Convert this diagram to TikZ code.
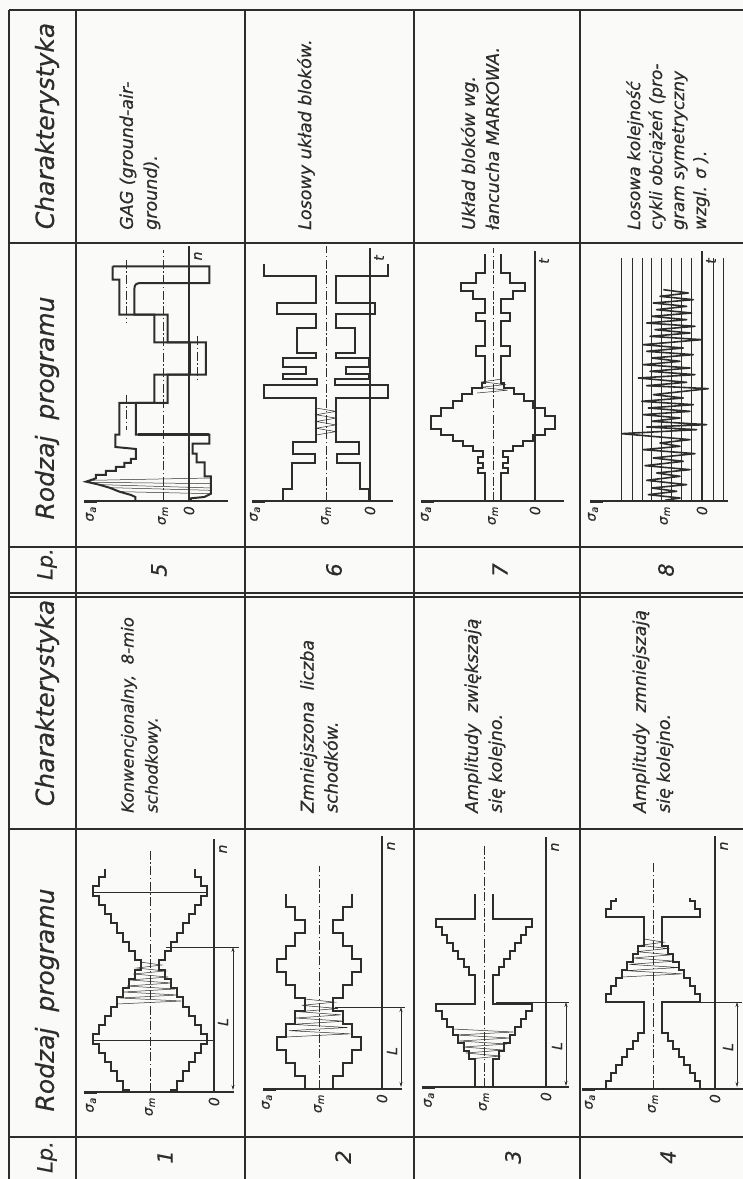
\documentclass[tikz,border=0pt]{standalone}
\usepackage{fontspec}
\setmainfont{DejaVu Sans}
\usetikzlibrary{arrows.meta}
\definecolor{ink}{RGB}{45,45,45}
\definecolor{paper}{RGB}{250,250,248}
\newcommand\scanit{\itshape\addfontfeatures{FakeBold=0.5}}
\newcommand\envside[2]{\draw[env] (#1,0) \foreach \v/\w in {#2} { |- (\w,\v) };}
\newcommand\envl[2]{\envside{#1}{#2}\begin{scope}[xscale=-1]\envside{#1}{#2}\end{scope}}
\newcommand\zz[5]{\draw[zzs] (-#3,#1) \foreach \i in {1,...,#5} { -- ({(2*mod(\i,2)-1)*(#3+(#4-#3)*\i/#5)},{#1+(#2-#1)*\i/#5}) };}
\newcommand\plotax[9]{%
  \draw[ax] (#2,#4) -- (#3,#4);
  \draw[ink,line width=3pt] (#2,#4) -- ++(13,0);
  \draw[ax] (#5,#4) -- (#5,#6);
  \draw[ink,line width=2.4pt] (#5,#6) -- ++(0,16);
  \node[lab] (#1sa) at (#8,#4+4) {σ\textsubscript{a}};
  \node[lab] (#1sm) at (#7,#4+4) {σ\textsubscript{m}};
  \node[lab] (#1z) at (#5,#4+4) {0};
  \node[lab,anchor=center] (#1n) at (#5+9,#6+10) {#9};
}
\begin{document}
\begin{tikzpicture}[x=1pt,y=-1pt,
  tline/.style={draw=ink,line width=1.4pt},
  env/.style={draw=ink,line width=2pt,line join=miter},
  ax/.style={draw=ink,line width=1.2pt},
  fine/.style={draw=ink,line width=0.6pt},
  zzs/.style={draw=ink,line width=0.5pt},
  mean/.style={draw=ink,line width=0.6pt,dash pattern=on 9pt off 2.5pt on 1.5pt off 2.5pt},
  dim/.style={draw=ink,line width=0.7pt,{Stealth[length=5pt,width=3pt]}-{Stealth[length=5pt,width=3pt]}},
  lab/.style={rotate=90,anchor=east,inner sep=1pt,text=ink,font=\fontsize{14}{16}\selectfont\scanit},
  hdr/.style={rotate=90,inner sep=0pt,text=ink,font=\fontsize{25}{29}\selectfont\scanit},
  lphdr/.style={rotate=90,inner sep=0pt,text=ink,font=\fontsize{21}{24}\selectfont\scanit},
  ctext/.style={rotate=90,inner sep=0pt,anchor=west,align=left,text=ink,font=\fontsize{17.5}{24}\selectfont\scanit},
  num/.style={rotate=90,inner sep=0pt,text=ink,font=\fontsize{21}{24}\selectfont\scanit}]
\useasboundingbox (0,0) rectangle (743,1179);
\fill[paper] (0,0) rectangle (743,1179);

% ---------- table ----------
\foreach \yy in {10,243,547,593,597,829,1137} \draw[tline] (9,\yy) -- (743,\yy);
\foreach \xx in {9,76,245,414,580} \draw[tline] (\xx,10) -- (\xx,1179);

% headers
\node[hdr] (h1) at (47,126) {Charakterystyka};
\node[hdr] (h2) at (47,408) {Rodzaj\ \ programu};
\node[lphdr] (h3) at (47,564) {Lp.};
\node[hdr] (h4) at (47,703) {Charakterystyka};
\node[hdr] (h5) at (47,1000) {Rodzaj\ \ programu};
\node[lphdr] (h6) at (47,1157) {Lp.};

% numbers
\node[num] (n1) at (165,1157) {1};
\node[num] (n2) at (343,1157) {2};
\node[num] (n3) at (513,1157) {3};
\node[num] (n4) at (668,1157) {4};
\node[num] (n5) at (159,570) {5};
\node[num] (n6) at (334,570) {6};
\node[num] (n7) at (500,570) {7};
\node[num] (n8) at (666,570) {8};

% characteristic texts
\node[ctext] (c5) at (140,230) {GAG (ground-air-\\ground).};
\node[ctext] (c6) at (306,230) {Losowy układ bloków.};
\node[ctext] (c7) at (480,230) {Układ bloków wg.\\łancucha MARKOWA.};
\node[ctext,font=\fontsize{17}{22}\selectfont\scanit] (c8) at (668,230) {Losowa kolejność\\cykli obciążeń (pro-\\gram symetryczny\\wzgl. σ ).};
\node[ctext,font=\fontsize{16.5}{24}\selectfont\scanit] (c1) at (141,813) {Konwencjonalny,\ \ 8-mio\\schodkowy.};
\node[ctext] (c2) at (319,813) {Zmniejszona\ \ liczba\\schodków.};
\node[ctext] (c3) at (485,813) {Amplitudy\ \ zwiększają\\się kolejno.};
\node[ctext] (c4) at (653,813) {Amplitudy\ \ zmniejszają\\się kolejno.};

% ---------- mean lines ----------
\draw[mean] (150,1092) -- (150,849);
\draw[mean] (319,1089) -- (319,866);
\draw[mean] (484,1087) -- (484,846);
\draw[mean] (653,1089) -- (653,861);
\draw[mean] (163,501) -- (163,250);
\draw[mean] (326,501) -- (326,246);
\draw[mean] (493,501) -- (493,248);

% ---------- axes ----------
\plotax{p1}{84}{234}{1092}{214}{839}{150}{91}{n}
\plotax{p2}{263}{402}{1089}{382}{836}{319}{267}{n}
\plotax{p3}{422}{569}{1087}{546}{837}{484}{429}{n}
\plotax{p4}{582}{743}{1089}{715}{836}{653}{590}{n}
\plotax{p5}{84}{228}{501}{189}{246}{163}{91}{n}
\plotax{p6}{252}{393}{501}{370}{248}{326}{255}{t}
\plotax{p7}{421}{564}{501}{535}{251}{493}{426}{t}
\plotax{p8}{590}{728}{501}{702}{251}{665}{593}{t}

% ---------- plot 1 ----------
\begin{scope}[shift={(150,1092)},yscale=-1]
\envl{21}{2.1/27,11.4/33,20.6/39,29.9/45,39.1/51,48.4/57,57.6/51,66.9/45,76.1/39,85.4/33,94.6/27,103.9/21,113.1/15,122.4/9,131.6/15,140.9/21,150.1/27,159.4/33,168.6/39,177.9/45,187.1/51,196.4/57,205.6/51,214.9/45,223/45}
\zz{88}{130}{33}{10}{14}
\end{scope}
\draw[fine] (94,1040) -- (213,1040);
\draw[fine] (94,892) -- (208,892);
\coordinate (p1La) at (233,947); \coordinate (p1Lb) at (233,1090);
\draw[dim] (p1La) -- (p1Lb);
\draw[fine] (166,947) -- (239,947);
\node[lab,anchor=center] (p1L) at (223,1022) {L};

% ---------- plot 2 ----------
\begin{scope}[shift={(319,1089)},yscale=-1]
\envl{14}{13/24,26/33,39/42,52/33,65/24,78/14,91/24,104/33,117/42,130/33,143/24,156/14,169/24,182/33,195/33}
\zz{52}{90}{33}{14}{12}
\end{scope}
\coordinate (p2La) at (401,1007); \coordinate (p2Lb) at (401,1087);
\draw[dim] (p2La) -- (p2Lb);
\draw[fine] (335,1007) -- (405,1007);
\node[lab,anchor=center] (p2L) at (392,1051) {L};

% ---------- plot 3 ----------
\begin{scope}[shift={(484,1087)},yscale=-1]
\envl{9}{28/15,36/20,44/26,52/31,60/37,68/42,76/48,83/9,112/15,120/20,128/26,136/31,144/37,152/42,160/48,168/9,193/9}
\zz{28}{58}{15}{31}{10}
\end{scope}
\coordinate (p3La) at (566,1002); \coordinate (p3Lb) at (566,1086);
\draw[dim] (p3La) -- (p3Lb);
\draw[fine] (496,1002) -- (569,1002);
\node[lab,anchor=center] (p3L) at (557,1046) {L};

% ---------- plot 4 ----------
\begin{scope}[shift={(653,1089)},yscale=-1]
\envl{47}{8/42,16/37,24/31,32/26,40/20,48/15,56/9,87/47,95/42,103/37,111/31,119/26,127/20,135/15,143/9,172/47,180/42,188/37,191/37}
\zz{112}{150}{31}{9}{12}
\end{scope}
\coordinate (p4La) at (737,1002); \coordinate (p4Lb) at (737,1087);
\draw[dim] (p4La) -- (p4Lb);
\draw[fine] (662,1002) -- (742,1002);
\node[lab,anchor=center] (p4L) at (728,1047) {L};

% ---------- plot 5 (GAG) ----------
\begin{scope}[shift={(76,243)},scale=0.3333]
\draw[mean] (150,50) -- (150,240);
\draw[mean] (150,455) -- (150,560);
\draw[mean] (365,280) -- (365,410);
\draw[env] (110,70) -- (110,110) -- (130,110) -- (130,215) -- (235,215) -- (235,298) -- (340,298) -- (340,395) -- (235,395) -- (235,480) -- (130,480) -- (130,575) -- (118,575) -- (118,612) -- (180,618) -- (180,648) -- (165,648) -- (165,660) -- (145,660) -- (145,672) -- (120,672) -- (120,684) -- (90,684) -- (90,696) -- (60,696) -- (60,706) -- (30,716) -- (65,724) -- (100,734) -- (130,746) -- (165,756) -- (178,762) -- (178,775);
\draw[env] (110,70) -- (400,70) -- (400,120) -- (195,120) .. controls (180,120) and (175,125) .. (175,140) -- (175,215) -- (275,215) -- (275,298) -- (390,298) -- (390,395) -- (275,395) -- (275,480) -- (180,480) -- (180,575) -- (400,575) -- (400,602) -- (350,602) -- (350,632) -- (362,632) -- (362,658) -- (386,658) -- (386,700) -- (405,700) -- (405,752) -- (385,762) -- (345,766) -- (345,775);
\draw[ink,line width=2.6pt] (195,120) -- (400,120);
\draw[ink,line width=2.6pt] (185,575) -- (400,575);
\draw[ink,line width=3pt] (340,298) -- (340,395);
\draw[zzs] (45,712) -- (405,705);
\draw[zzs] (50,718) -- (405,722);
\draw[zzs] (75,725) -- (405,735);
\draw[zzs] (100,734) -- (405,742);
\draw[zzs] (130,746) -- (400,752);
\end{scope}

% ---------- plot 6 ----------
\begin{scope}[shift={(326,501)},yscale=-1]
\envl{43}{11.7/34,38.3/11,46.7/33,59/10,103.3/62,115.7/9,121.7/43,126.7/20,134.3/43,143.3/10,148.3/29,173.3/10,186.7/49,198.3/10,225/62,236.7/62}
\zz{66}{93}{10}{10}{8}
\end{scope}

% ---------- plot 7 ----------
\begin{scope}[shift={(493,501)},yscale=-1]
\envl{8}{28/15,33/10,38/15,44/10,50/20,55/30,60/40,66/52,72/62,85/52,93/40,100/31,107/21,113/11,118/8,145/17,155/8,180/17,188/8,202/20,210/32,218/17,228/8,247/8}
\zz{108}{122}{16}{9}{5}
\end{scope}

% ---------- plot 8 ----------
\begin{scope}[shift={(580,243)},scale=0.3333]
\foreach \gx in {125,157,187,215,245,275,305,335,400,430} \draw[fine] (\gx,45) -- (\gx,775);
\draw[ink,line width=1.6pt,line join=round] (255,772) -- (300,765) -- (205,755) -- (290,745) -- (215,735) -- (320,725) -- (200,712) -- (300,700) -- (230,690) -- (330,680) -- (195,668) -- (310,655) -- (220,645) -- (345,632) -- (190,620) -- (300,610) -- (240,600) -- (330,590) -- (125,572) -- (350,560) -- (200,552) -- (380,545) -- (215,535) -- (300,525) -- (190,515) -- (330,505) -- (205,495) -- (340,485) -- (185,475) -- (310,465) -- (220,455) -- (385,437) -- (200,428) -- (320,418) -- (175,405) -- (345,395) -- (210,385) -- (330,375) -- (190,365) -- (300,355) -- (215,345) -- (340,335) -- (200,325) -- (310,315) -- (190,305) -- (365,290) -- (210,280) -- (330,270) -- (225,260) -- (345,250) -- (200,240) -- (320,230) -- (215,220) -- (335,210) -- (230,200) -- (320,190) -- (220,180) -- (340,170) -- (240,160) -- (325,150) -- (250,140);
\end{scope}

\end{tikzpicture}
\end{document}
